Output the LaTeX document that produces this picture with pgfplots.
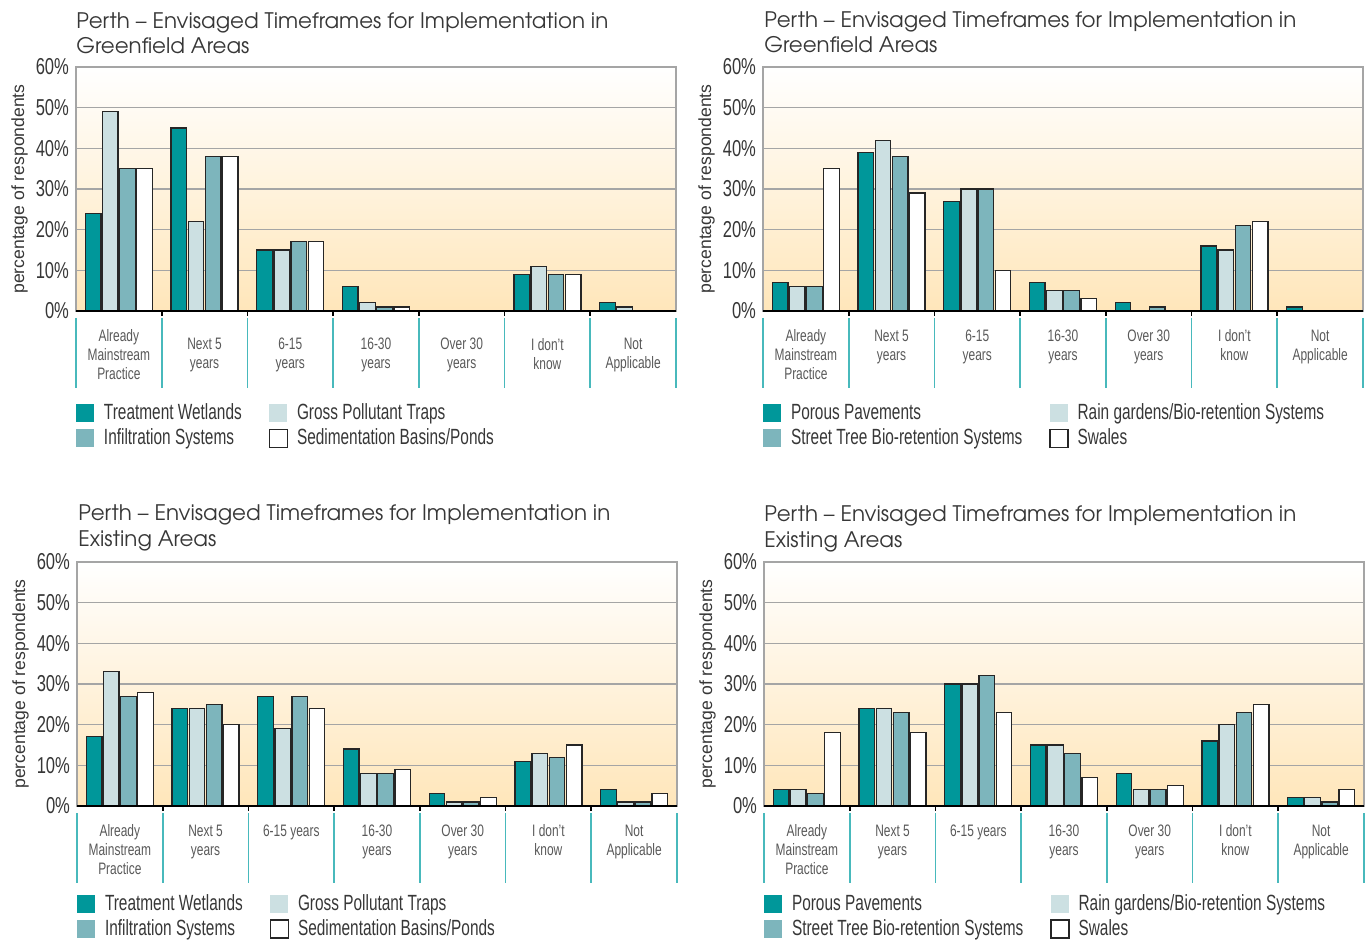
\documentclass[border=0pt]{standalone}
\usepackage{pgfplots}
\pgfplotsset{compat=1.18}
\usepackage{fontspec}
\setmainfont{Liberation Sans}
\newfontfamily\cond[FakeStretch=0.72]{Liberation Sans}
\newfontfamily\legfont[FakeStretch=0.7]{Liberation Sans}
\newfontfamily\titlefont{texgyreadventor-regular.otf}

\definecolor{cA}{RGB}{0,151,154}
\definecolor{cB}{RGB}{204,224,226}
\definecolor{cC}{RGB}{125,181,188}
\definecolor{bgbot}{RGB}{255,230,186}
\definecolor{sepc}{RGB}{72,185,188}
\definecolor{gridc}{RGB}{165,165,165}
\definecolor{txt}{RGB}{55,55,55}

\pgfplotsset{
  panel/.style={
    scale only axis, width=300pt, height=122pt,
    anchor=south west,
    clip=false,
    xmin=-0.5, xmax=6.5, ymin=0, ymax=60,
    axis background/.style={shade, top color=white, bottom color=bgbot},
    axis line style={gridc, line width=0.8pt},
    ytick={0,10,...,60},
    yticklabels={0\%,10\%,20\%,30\%,40\%,50\%,60\%},
    yticklabel style={font=\cond\fontsize{11.5}{12}\selectfont, text=txt},
    ytick style={draw=none},
    ymajorgrids, major grid style={gridc, line width=0.8pt},
    xtick={0,...,6},
    minor xtick={0.5,1.5,...,5.5},
    xtick pos=lower,
    major x tick style={draw=none},
    minor x tick style={black, line width=0.8pt},
    minor tick length=2.5pt,
    tick align=inside,
    xticklabel style={font=\cond\fontsize{8.3}{9.5}\selectfont, text=black!65, align=center, inner sep=0pt},
    ylabel={percentage of respondents},
    ylabel style={font=\fontsize{8.8}{10}\selectfont, text=txt, at={(axis description cs:-0.094,0.5)}, anchor=center},
    ybar=0.77pt, bar width=7.8pt,
    every axis plot/.append style={draw=black!85, line width=0.6pt},
    legend columns=2,
    legend cell align=left,
    legend image code/.code={\fill[#1, draw=none] (0pt,-4.5pt) rectangle (9pt,4.5pt); \path (11.5pt,0pt);},
    legend style={draw=none, fill=none, inner sep=0pt,
      anchor=north west,
      font=\legfont\fontsize{11}{13}\selectfont, text=txt, row sep=-1pt,
      /tikz/every even column/.append style={column sep=11.5pt}},
  },
  boxleg/.style={legend image code/.code={\draw[##1] (0pt,-4.5pt) rectangle (9pt,4.5pt); \path (11.5pt,0pt);}},
}

\newcommand{\separators}{%
  \pgfplotsinvokeforeach{-0.5,0.5,1.5,2.5,3.5,4.5,5.5,6.5}{%
    \draw[sepc, line width=0.8pt] (axis cs:##1,0) ++(0pt,-3.5pt) -- ++(0pt,-35pt);}%
  \draw[black, line width=1pt] (rel axis cs:0,0) -- (rel axis cs:1,0);%
}

\begin{document}
\begin{tikzpicture}
\path[use as bounding box] (0pt,0pt) rectangle (685pt,471.5pt);

% ---------- top left ----------
\node[anchor=north west, inner sep=0pt, align=left, font=\titlefont\fontsize{10.7}{12.8}\selectfont, text=txt]
  at (38pt,465.5pt) {Perth – Envisaged Timeframes for Implementation in\\Greenfield Areas};
\begin{axis}[panel, at={(38pt,316pt)},
  legend style={at={(axis description cs:0,-0.362)}},
  xticklabels={Already\\Mainstream\\Practice, Next 5\\years, 6-15\\years, 16-30\\years, Over 30\\years, I don’t\\know, Not\\Applicable},
  xticklabel style={anchor=center, yshift=-17.5pt}]
\addplot[fill=cA] coordinates {(0,24) (1,45) (2,15) (3,6) (4,0) (5,9) (6,2)};
\addplot[fill=cB] coordinates {(0,49) (1,22) (2,15) (3,2) (4,0) (5,11) (6,1)};
\addplot[fill=cC] coordinates {(0,35) (1,38) (2,17) (3,1) (4,0) (5,9) (6,0)};
\addplot[fill=white, boxleg] coordinates {(0,35) (1,38) (2,17) (3,1) (4,0) (5,9) (6,0)};
\legend{Treatment Wetlands, Gross Pollutant Traps, Infiltration Systems, Sedimentation Basins/Ponds}
\separators
\end{axis}

% ---------- top right ----------
\node[anchor=north west, inner sep=0pt, align=left, font=\titlefont\fontsize{10.7}{12.8}\selectfont, text=txt]
  at (382pt,466pt) {Perth – Envisaged Timeframes for Implementation in\\Greenfield Areas};
\begin{axis}[panel, at={(381.5pt,316pt)},
  legend style={at={(axis description cs:0,-0.362)}},
  xticklabels={Already\\Mainstream\\Practice, Next 5\\years, 6-15\\years, 16-30\\years, Over 30\\years, I don’t\\know, Not\\Applicable},
  xticklabel style={anchor=north, yshift=-5pt}]
\addplot[fill=cA] coordinates {(0,7) (1,39) (2,27) (3,7) (4,2) (5,16) (6,1)};
\addplot[fill=cB] coordinates {(0,6) (1,42) (2,30) (3,5) (4,0) (5,15) (6,0)};
\addplot[fill=cC] coordinates {(0,6) (1,38) (2,30) (3,5) (4,1) (5,21) (6,0)};
\addplot[fill=white, boxleg] coordinates {(0,35) (1,29) (2,10) (3,3) (4,0) (5,22) (6,0)};
\legend{Porous Pavements, Rain gardens/Bio-retention Systems, Street Tree Bio-retention Systems, Swales}
\separators
\end{axis}

% ---------- bottom left ----------
\node[anchor=north west, inner sep=0pt, align=left, font=\titlefont\fontsize{10.7}{13.3}\selectfont, text=txt]
  at (39pt,219.5pt) {Perth – Envisaged Timeframes for Implementation in\\Existing Areas};
\begin{axis}[panel, at={(38.5pt,68.5pt)},
  legend style={at={(axis description cs:0,-0.345)}},
  xticklabels={Already\\Mainstream\\Practice, Next 5\\years, 6-15 years, 16-30\\years, Over 30\\years, I don’t\\know, Not\\Applicable},
  xticklabel style={anchor=north, yshift=-5pt}]
\addplot[fill=cA] coordinates {(0,17) (1,24) (2,27) (3,14) (4,3) (5,11) (6,4)};
\addplot[fill=cB] coordinates {(0,33) (1,24) (2,19) (3,8) (4,1) (5,13) (6,1)};
\addplot[fill=cC] coordinates {(0,27) (1,25) (2,27) (3,8) (4,1) (5,12) (6,1)};
\addplot[fill=white, boxleg] coordinates {(0,28) (1,20) (2,24) (3,9) (4,2) (5,15) (6,3)};
\legend{Treatment Wetlands, Gross Pollutant Traps, Infiltration Systems, Sedimentation Basins/Ponds}
\separators
\end{axis}

% ---------- bottom right ----------
\node[anchor=north west, inner sep=0pt, align=left, font=\titlefont\fontsize{10.7}{13.3}\selectfont, text=txt]
  at (382pt,219pt) {Perth – Envisaged Timeframes for Implementation in\\Existing Areas};
\begin{axis}[panel, at={(382pt,68.5pt)},
  legend style={at={(axis description cs:0,-0.345)}},
  xticklabels={Already\\Mainstream\\Practice, Next 5\\years, 6-15 years, 16-30\\years, Over 30\\years, I don’t\\know, Not\\Applicable},
  xticklabel style={anchor=north, yshift=-5pt}]
\addplot[fill=cA] coordinates {(0,4) (1,24) (2,30) (3,15) (4,8) (5,16) (6,2)};
\addplot[fill=cB] coordinates {(0,4) (1,24) (2,30) (3,15) (4,4) (5,20) (6,2)};
\addplot[fill=cC] coordinates {(0,3) (1,23) (2,32) (3,13) (4,4) (5,23) (6,1)};
\addplot[fill=white, boxleg] coordinates {(0,18) (1,18) (2,23) (3,7) (4,5) (5,25) (6,4)};
\legend{Porous Pavements, Rain gardens/Bio-retention Systems, Street Tree Bio-retention Systems, Swales}
\separators
\end{axis}
\end{tikzpicture}
\end{document}
